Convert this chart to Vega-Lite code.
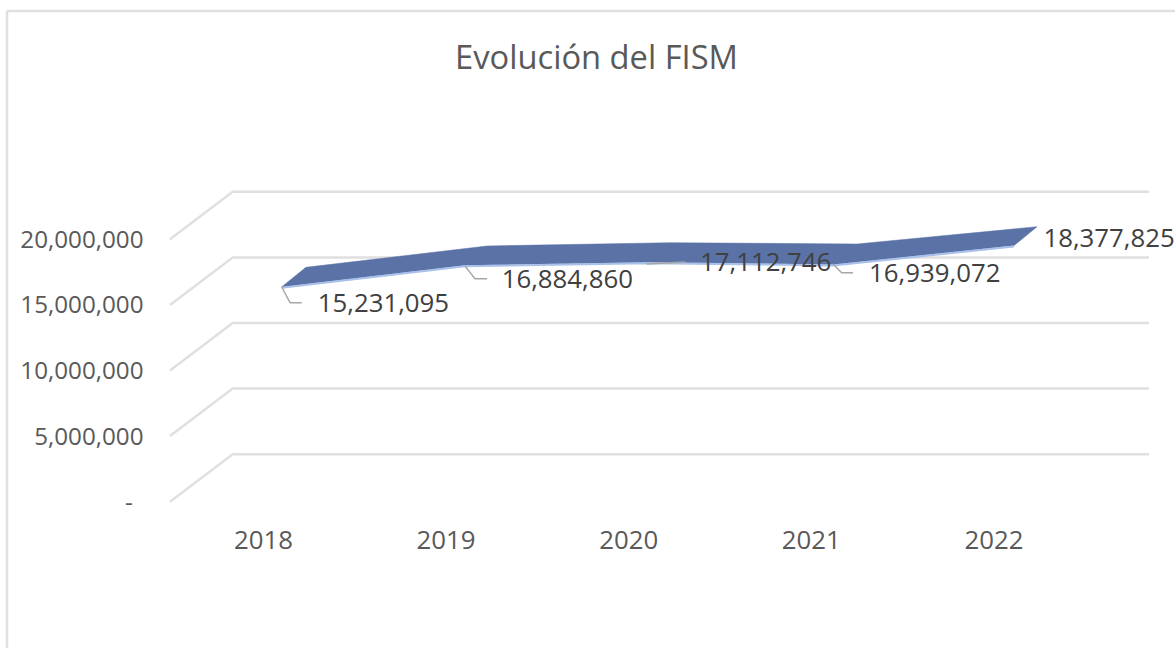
{"$schema":"https://vega.github.io/schema/vega-lite/v6.json","width":1175,"height":648,"padding":0,"autosize":{"type":"none"},"background":"white","view":{"stroke":null},
"title":{"text":"Evolución del FISM","anchor":"middle","frame":"group","offset":-76,"dx":9,"font":"Open Sans","fontSize":32.7,"fontWeight":"normal","color":"#595959"},
"datasets":{
"lines":[
{"g":"frameL","x":2016.598,"y":37400000,"s":1},{"g":"frameL","x":2016.598,"y":-11151000,"s":2},
{"g":"frameT","x":2016.598,"y":37400000,"s":1},{"g":"frameT","x":2022.9945,"y":37400000,"s":2},
{"g":"g0","x":2017.4907,"y":0,"s":1},{"g":"g0","x":2017.834,"y":3620000,"s":2},{"g":"g0","x":2022.852,"y":3620000,"s":3},
{"g":"g1","x":2017.4907,"y":5000000,"s":1},{"g":"g1","x":2017.834,"y":8620000,"s":2},{"g":"g1","x":2022.852,"y":8620000,"s":3},
{"g":"g2","x":2017.4907,"y":10000000,"s":1},{"g":"g2","x":2017.834,"y":13620000,"s":2},{"g":"g2","x":2022.852,"y":13620000,"s":3},
{"g":"g3","x":2017.4907,"y":15000000,"s":1},{"g":"g3","x":2017.834,"y":18620000,"s":2},{"g":"g3","x":2022.852,"y":18620000,"s":3},
{"g":"g4","x":2017.4907,"y":20000000,"s":1},{"g":"g4","x":2017.834,"y":23620000,"s":2},{"g":"g4","x":2022.852,"y":23620000,"s":3}
],
"ribbon":[
{"x":2018.102,"y":16374000,"s":1},{"x":2019.106,"y":18028000,"s":2},{"x":2020.108,"y":18256000,"s":3},{"x":2021.122,"y":18082000,"s":4},{"x":2022.113,"y":19521000,"s":5},
{"x":2022.239,"y":20960000,"s":6},{"x":2021.253,"y":19642000,"s":7},{"x":2020.229,"y":19741000,"s":8},{"x":2019.227,"y":19490000,"s":9},{"x":2018.235,"y":17866000,"s":10},{"x":2018.102,"y":16374000,"s":11}
],
"front":[
{"x":2018.102,"y":16300000,"s":1},{"x":2019.106,"y":17954000,"s":2},{"x":2020.108,"y":18182000,"s":3},{"x":2021.122,"y":18008000,"s":4},{"x":2022.113,"y":19447000,"s":5}
],
"leaders":[
{"g":"a","x":2018.102,"y":16387000,"s":1},{"g":"a","x":2018.148,"y":15168000,"s":2},{"g":"a","x":2018.212,"y":15168000,"s":3},
{"g":"b","x":2019.106,"y":17965000,"s":1},{"g":"b","x":2019.161,"y":16997000,"s":2},{"g":"b","x":2019.227,"y":16997000,"s":3},
{"g":"c","x":2020.101,"y":18118000,"s":1},{"g":"c","x":2020.311,"y":18270000,"s":2},
{"g":"d","x":2021.122,"y":18118000,"s":1},{"g":"d","x":2021.169,"y":17454000,"s":2},{"g":"d","x":2021.231,"y":17454000,"s":3}
],
"labels":[
{"year":2018,"value":15231095,"x":2018.2996,"y":15069000},
{"year":2019,"value":16884860,"x":2019.307,"y":16898000},
{"year":2020,"value":17112746,"x":2020.393,"y":18194000},
{"year":2021,"value":16939072,"x":2021.319,"y":17355000},
{"year":2022,"value":18377825,"x":2022.274,"y":20023000}
],
"zero":[{"x":2017.266,"y":-150000,"t":"-"}]
},
"encoding":{
"x":{"field":"x","type":"quantitative","title":null,"scale":{"domain":[2016.5597,2022.9945],"nice":false,"zero":false},
"axis":{"values":[2018,2019,2020,2021,2022],"format":"d","grid":false,"domain":false,"ticks":false,"labelPadding":0,"offset":-120,"labelFont":"Open Sans","labelFontSize":25.8,"labelColor":"#595959","labelFlush":false,"labelOverlap":false}},
"y":{"field":"y","type":"quantitative","title":null,"scale":{"domain":[-11151000,38240000],"nice":false,"zero":false},
"axis":{"values":[5000000,10000000,15000000,20000000],"labelExpr":"format(datum.value, ',')","grid":false,"domain":false,"ticks":false,"labelPadding":0,"labelOffset":1,"offset":-143,"labelFont":"Open Sans","labelFontSize":24.2,"labelColor":"#595959","labelFlush":false,"labelOverlap":false}}
},
"layer":[
{"data":{"name":"lines"},"mark":{"type":"line","color":"#e0e0e0","strokeWidth":2.5,"clip":true},"encoding":{"detail":{"field":"g"},"order":{"field":"s"}}},
{"data":{"name":"ribbon"},"mark":{"type":"line","color":"#5a72a6","fill":"#5a72a6","filled":false,"strokeWidth":0.5},"encoding":{"order":{"field":"s"}}},
{"data":{"name":"front"},"mark":{"type":"line","color":"#a9c1ea","strokeWidth":2},"encoding":{"order":{"field":"s"}}},
{"data":{"name":"leaders"},"mark":{"type":"line","color":"#a6a6a6","strokeWidth":1.4},"encoding":{"detail":{"field":"g"},"order":{"field":"s"}}},
{"data":{"name":"labels"},"mark":{"type":"text","align":"left","baseline":"middle","font":"Open Sans","fontSize":25.8,"color":"#404040"},"encoding":{"text":{"field":"value","type":"quantitative","format":","}}},
{"data":{"name":"zero"},"mark":{"type":"text","align":"center","baseline":"middle","font":"Open Sans","fontSize":24.2,"color":"#595959"},"encoding":{"text":{"field":"t","type":"nominal"}}}
]}
